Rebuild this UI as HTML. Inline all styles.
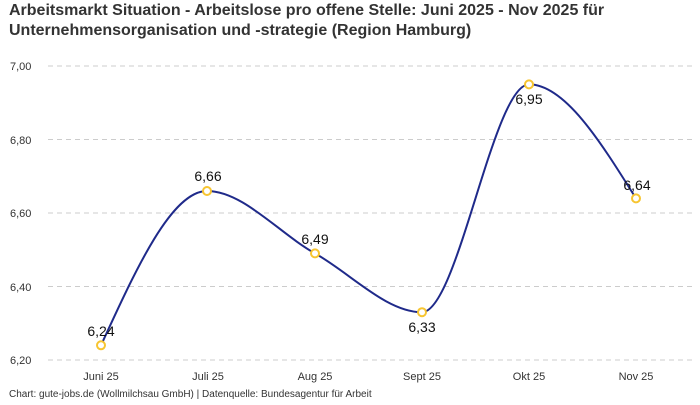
<!DOCTYPE html>
<html><head><meta charset="utf-8"><style>
body{margin:0;background:#fff;width:700px;height:400px;overflow:hidden;font-family:"Liberation Sans",sans-serif}
</style></head><body>
<svg width="700" height="400" viewBox="0 0 700 400" xmlns="http://www.w3.org/2000/svg" font-family="Liberation Sans, sans-serif">
<text x="9" y="15" font-size="16" font-weight="bold" fill="#333">Arbeitsmarkt Situation - Arbeitslose pro offene Stelle: Juni 2025 - Nov 2025 für</text>
<text x="9" y="35" font-size="16" font-weight="bold" fill="#333">Unternehmensorganisation und -strategie (Region Hamburg)</text>
<g stroke="#ccc" stroke-dasharray="5,4" stroke-width="1">
<line x1="48" y1="66" x2="692" y2="66"/><line x1="48" y1="139.5" x2="692" y2="139.5"/><line x1="48" y1="213" x2="692" y2="213"/><line x1="48" y1="286.5" x2="692" y2="286.5"/><line x1="48" y1="360" x2="692" y2="360"/>
</g>
<g font-size="11" fill="#333" text-anchor="start">
<text x="10" y="70">7,00</text><text x="10" y="144">6,80</text><text x="10" y="217">6,60</text><text x="10" y="291">6,40</text><text x="10" y="364">6,20</text>
</g>
<g font-size="11" fill="#333" text-anchor="middle">
<text x="101" y="380">Juni 25</text><text x="208" y="380">Juli 25</text><text x="315" y="380">Aug 25</text><text x="422" y="380">Sept 25</text><text x="529" y="380">Okt 25</text><text x="636" y="380">Nov 25</text>
</g>
<path d="M101,345.3 C136.3,268.3 171.7,191 207,191 C243,191 279,233.2 315,253.4 C350.7,273.4 386.3,312.2 422,312.2 C457.7,312.2 493.3,84.4 529,84.4 C564.7,84.4 600.3,141.3 636,198.4" fill="none" stroke="#1f2a8a" stroke-width="2"/>
<g fill="#fff" stroke="#f7c531" stroke-width="2">
<circle cx="101" cy="345.3" r="4"/><circle cx="207" cy="191" r="4"/><circle cx="315" cy="253.4" r="4"/><circle cx="422" cy="312.2" r="4"/><circle cx="529" cy="84.4" r="4"/><circle cx="636" cy="198.4" r="4"/>
</g>
<g font-size="14" fill="#111" text-anchor="middle">
<text x="101" y="336">6,24</text><text x="208" y="181">6,66</text><text x="315" y="244">6,49</text><text x="422" y="332">6,33</text><text x="529" y="104">6,95</text><text x="637" y="190">6,64</text>
</g>
<text x="9" y="397" font-size="10" fill="#333">Chart: gute-jobs.de (Wollmilchsau GmbH) | Datenquelle: Bundesagentur für Arbeit</text>
</svg>
</body></html>
